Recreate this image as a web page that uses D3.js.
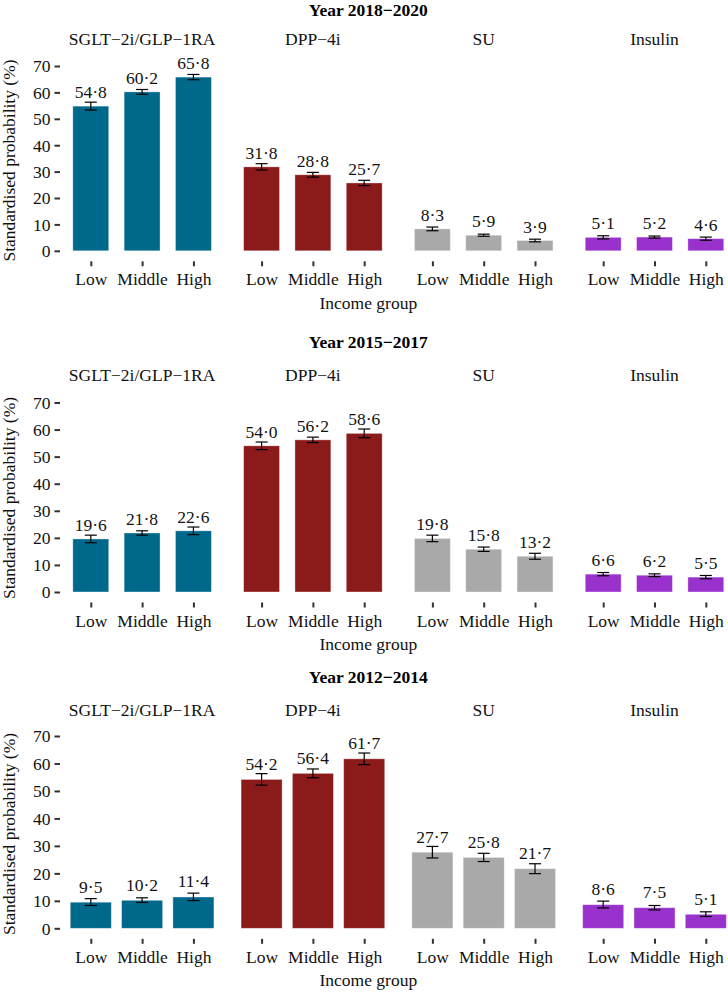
<!DOCTYPE html>
<html>
<head>
<meta charset="utf-8">
<script src="https://cdn.jsdelivr.net/npm/d3@7"></script>
<style>
  html, body { margin: 0; padding: 0; background: #ffffff; }
  svg { display: block; font-family: "Liberation Serif", "Times New Roman", serif; }
</style>
</head>
<body>
<svg id="chart" width="728" height="992"></svg>
<script>
// ---------------- DATA ----------------
const periods = ["Year 2018\u22122020", "Year 2015\u22122017", "Year 2012\u22122014"];
const drugClasses = ["SGLT\u22122i/GLP\u22121RA", "DPP\u22124i", "SU", "Insulin"];
const incomeGroups = ["Low", "Middle", "High"];
const yTickValues = [0, 10, 20, 30, 40, 50, 60, 70];
const classColors = ["#00688B", "#8B1A1A", "#A9A9A9", "#9932CC"];

// estimates per drug class (rows) by income group (cols)
const est2018 = [[54.8, 60.2, 65.8], [31.8, 28.8, 25.7], [8.3, 5.9, 3.9], [5.1, 5.2, 4.6]];
const lo2018  = [[53.3, 59.3, 64.8], [30.6, 27.9, 24.7], [7.6, 5.5, 3.4], [4.5, 4.8, 4.0]];
const hi2018  = [[56.3, 61.1, 66.8], [33.0, 29.7, 26.7], [9.0, 6.3, 4.4], [5.7, 5.6, 5.2]];

const est2015 = [[19.6, 21.8, 22.6], [54.0, 56.2, 58.6], [19.8, 15.8, 13.2], [6.6, 6.2, 5.5]];
const lo2015  = [[18.2, 21.0, 21.2], [52.6, 55.2, 57.0], [18.6, 15.0, 12.1], [6.0, 5.7, 4.9]];
const hi2015  = [[21.0, 22.6, 24.0], [55.4, 57.2, 60.2], [21.0, 16.6, 14.3], [7.2, 6.7, 6.1]];

const est2012 = [[9.5, 10.2, 11.4], [54.2, 56.4, 61.7], [27.7, 25.8, 21.7], [8.6, 7.5, 5.1]];
const lo2012  = [[8.3, 9.4, 10.1], [52.1, 54.8, 59.6], [25.6, 24.3, 19.9], [7.4, 6.7, 4.3]];
const hi2012  = [[10.8, 11.1, 12.8], [56.3, 58.0, 63.8], [29.8, 27.3, 23.5], [9.9, 8.3, 6.0]];

const estimates = [est2018, est2015, est2012];
const lowers = [lo2018, lo2015, lo2012];
const uppers = [hi2018, hi2015, hi2012];

// ---------------- LAYOUT ----------------
const layout = [
  {titleY: 15.5, stripY: 45,  y0: 250.8, y70: 66,    tickLabelY: 285,   xTitleY: 308.5, yTitleY: 160.5, barFrac: 0.7, labelOff: 3.0},
  {titleY: 348.3, stripY: 381, y0: 592,  y70: 402.5, tickLabelY: 626.7, xTitleY: 650,   yTitleY: 498,   barFrac: 0.7, labelOff: 3.0},
  {titleY: 683.3, stripY: 716, y0: 928.3, y70: 736,  tickLabelY: 962.7, xTitleY: 986,   yTitleY: 834,   barFrac: 0.8, labelOff: 3.5}
];
const facetLeft0 = 60, facetStep = 170.8, facetWidth = 164.2;
const plotCenterX = (facetLeft0 + 3 * facetStep + facetWidth) / 2;
const fontSize = 17.5;
const textColor = "#111";
const tickColor = "#333";
const fmt = v => v.toFixed(1).replace(".", "\u00B7");

const svg = d3.select("#chart");

periods.forEach((period, p) => {
  const L = layout[p];
  const g = svg.append("g");
  const y = d3.scaleLinear().domain([0, 70]).range([L.y0, L.y70]);
  const panelBottom = L.y0 + 10.5;

  // period title
  g.append("text")
    .attr("x", plotCenterX).attr("y", L.titleY)
    .attr("text-anchor", "middle")
    .attr("font-weight", "bold")
    .attr("font-size", fontSize)
    .attr("fill", "#000")
    .text(period);

  // y axis title
  g.append("text")
    .attr("transform", `translate(14.5,${L.yTitleY}) rotate(-90)`)
    .attr("text-anchor", "middle")
    .attr("font-size", fontSize)
    .attr("fill", textColor)
    .text("Standardised probability (%)");

  // y axis (ticks + labels) via d3.axisLeft
  const yAxis = d3.axisLeft(y).tickValues(yTickValues).tickSize(5.5).tickPadding(4).tickFormat(d3.format("d"));
  const ya = g.append("g").attr("transform", `translate(${facetLeft0},0)`).call(yAxis);
  ya.select(".domain").remove();
  ya.selectAll(".tick line").attr("stroke", tickColor).attr("stroke-width", 2);
  ya.selectAll(".tick text")
    .attr("font-family", "Liberation Serif, Times New Roman, serif")
    .attr("font-size", fontSize).attr("fill", textColor).attr("dy", "0.34em");

  // x axis title
  g.append("text")
    .attr("x", plotCenterX).attr("y", L.xTitleY)
    .attr("text-anchor", "middle")
    .attr("font-size", fontSize)
    .attr("fill", textColor)
    .text("Income group");

  drugClasses.forEach((drug, d) => {
    const left = facetLeft0 + d * facetStep;
    const x = d3.scalePoint().domain(incomeGroups).range([left, left + facetWidth]).padding(0.6);
    const bw = x.step() * L.barFrac;
    const capW = 12;

    // strip label
    g.append("text")
      .attr("x", left + facetWidth / 2).attr("y", L.stripY)
      .attr("text-anchor", "middle")
      .attr("font-size", fontSize)
      .attr("fill", textColor)
      .text(drug);

    const rows = incomeGroups.map((inc, i) => ({
      inc, v: estimates[p][d][i], lo: lowers[p][d][i], hi: uppers[p][d][i]
    }));

    // bars
    g.selectAll(null).data(rows).enter().append("rect")
      .attr("x", r => x(r.inc) - bw / 2)
      .attr("width", bw)
      .attr("y", r => y(r.v))
      .attr("height", r => y(0) - y(r.v))
      .attr("fill", classColors[d])
      .attr("stroke", "rgba(255,255,255,0.45)")
      .attr("stroke-width", 0.8);

    // error bars
    const eb = g.selectAll(null).data(rows).enter().append("g").attr("stroke", "#000").attr("stroke-width", 1.2);
    eb.append("line")
      .attr("x1", r => x(r.inc)).attr("x2", r => x(r.inc))
      .attr("y1", r => y(r.lo)).attr("y2", r => y(r.hi));
    eb.append("line")
      .attr("x1", r => x(r.inc) - capW / 2).attr("x2", r => x(r.inc) + capW / 2)
      .attr("y1", r => y(r.lo)).attr("y2", r => y(r.lo));
    eb.append("line")
      .attr("x1", r => x(r.inc) - capW / 2).attr("x2", r => x(r.inc) + capW / 2)
      .attr("y1", r => y(r.hi)).attr("y2", r => y(r.hi));

    // value labels
    g.selectAll(null).data(rows).enter().append("text")
      .attr("x", r => x(r.inc))
      .attr("y", r => y(r.v + L.labelOff))
      .attr("text-anchor", "middle")
      .attr("font-size", fontSize)
      .attr("fill", textColor)
      .text(r => fmt(r.v));

    // x axis ticks + labels via d3.axisBottom
    const xAxis = d3.axisBottom(x).tickSize(5).tickPadding(0);
    const xa = g.append("g").attr("transform", `translate(0,${panelBottom})`).call(xAxis);
    xa.select(".domain").remove();
    xa.selectAll(".tick line").attr("stroke", tickColor).attr("stroke-width", 2);
    xa.selectAll(".tick text")
      .attr("font-family", "Liberation Serif, Times New Roman, serif")
      .attr("font-size", fontSize).attr("fill", textColor)
      .attr("y", L.tickLabelY - panelBottom).attr("dy", 0);
  });
});
</script>
</body>
</html>
